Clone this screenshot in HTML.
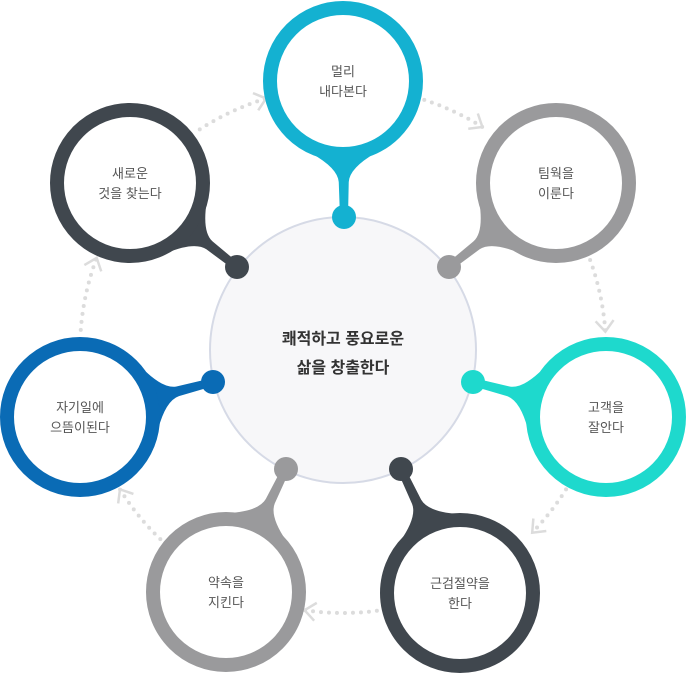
<!DOCTYPE html>
<html><head><meta charset="utf-8"><style>
html,body{margin:0;padding:0;background:#fff;}
svg{display:block;}
text{font-family:"Liberation Sans","Noto Sans CJK KR",sans-serif;}
</style></head><body>
<svg id="s" width="686" height="674" viewBox="0 0 686 674" xmlns="http://www.w3.org/2000/svg">
<g id="arcs"></g>
<circle cx="343" cy="350" r="133" fill="#f7f7f9" stroke="#d6dae6" stroke-width="2"/>
<g id="nodes"></g>
<text x="343" y="344" text-anchor="middle" font-size="16" font-weight="bold" fill="#333">쾌적하고 풍요로운</text>
<text x="343" y="373" text-anchor="middle" font-size="16" font-weight="bold" fill="#333">삶을 창출한다</text>
</svg>
<script>
var NS="http://www.w3.org/2000/svg";
function el(t,a,p){var e=document.createElementNS(NS,t);for(var k in a)e.setAttribute(k,a[k]);p.appendChild(e);return e;}
var arcs=document.getElementById('arcs'),nodes=document.getElementById('nodes');
var CX=343,CY=350,AR=263;
var segs=[[-123,-107],[-72,-58],[-20,-4],[32,44],[82.6,98.4],[134,148],[184.4,200.5]];
segs.forEach(function(s){
 var a0=s[0]*Math.PI/180,a1=s[1]*Math.PI/180;
 var x0=CX+AR*Math.cos(a0),y0=CY+AR*Math.sin(a0),x1=CX+AR*Math.cos(a1),y1=CY+AR*Math.sin(a1);
 el('path',{d:'M'+x0+' '+y0+' A'+AR+' '+AR+' 0 0 1 '+x1+' '+y1,fill:'none',stroke:'#dcdcdc','stroke-width':4,'stroke-linecap':'round','stroke-dasharray':'0 8'},arcs);
 var tx=-Math.sin(a1),ty=Math.cos(a1);var nx=Math.cos(a1),ny=Math.sin(a1);
 var L=11,W=9;
 el('path',{d:'M'+(x1-tx*L+nx*W)+' '+(y1-ty*L+ny*W)+' L'+x1+' '+y1+' L'+(x1-tx*L-nx*W)+' '+(y1-ty*L-ny*W),fill:'none',stroke:'#dcdcdc','stroke-width':2.5},arcs);
});
var N=[
 [343,81,344,217,'#14b1d1',['멀리','내다본다']],
 [556,183,449,267,'#9a9a9c',['팀웍을','이룬다']],
 [606,417,473,382,'#1ed9cd',['고객을','잘안다']],
 [460,593,401,469,'#40474e',['근검절약을','한다']],
 [226,592,286,469,'#9a9a9c',['약속을','지킨다']],
 [80,417,213,382,'#0a6bb5',['자기일에','으뜸이된다']],
 [130,183,237,267,'#40474e',['새로운','것을 찾는다']]
];
N.forEach(function(n){
 var cx=n[0],cy=n[1],dx=n[2],dy=n[3],c=n[4];
 var vx=dx-cx,vy=dy-cy,d=Math.hypot(vx,vy);var ux=vx/d,uy=vy/d,px=-uy,py=ux;
 var R=79,th=24*Math.PI/180;
 function rot(a){return [cx+R*(ux*Math.cos(a)-uy*Math.sin(a)),cy+R*(uy*Math.cos(a)+ux*Math.sin(a))];}
 var P1=rot(th),P2=rot(-th);
 var sd=R+22,sx=cx+ux*sd,sy=cy+uy*sd,hw=5;
 var q=R+8;
 var Q1=[cx+ux*q+px*hw*1.2,cy+uy*q+py*hw*1.2],Q2=[cx+ux*q-px*hw*1.2,cy+uy*q-py*hw*1.2];
 var S1=[sx+px*hw,sy+py*hw],S2=[sx-px*hw,sy-py*hw];
 var hd=4;
 var D1=[dx+px*hd,dy+py*hd],D2=[dx-px*hd,dy-py*hd];
 var p='M'+P1+' Q'+Q1+' '+S1+' L'+D1+' L'+D2+' L'+S2+' Q'+Q2+' '+P2+' Z';
 el('path',{d:p.replace(/,/g,' ').replace(/ (?=[-\d])/g,' '),fill:c},nodes);
 el('circle',{cx:cx,cy:cy,r:73,fill:'#fff',stroke:c,'stroke-width':14},nodes);
 el('circle',{cx:dx,cy:dy,r:12,fill:c},nodes);
 var t1=el('text',{x:cx,y:cy-5,'text-anchor':'middle','font-size':13,fill:'#555'},nodes);t1.textContent=n[5][0];
 var t2=el('text',{x:cx,y:cy+15,'text-anchor':'middle','font-size':13,fill:'#555'},nodes);t2.textContent=n[5][1];
});
</script>
</body></html>
